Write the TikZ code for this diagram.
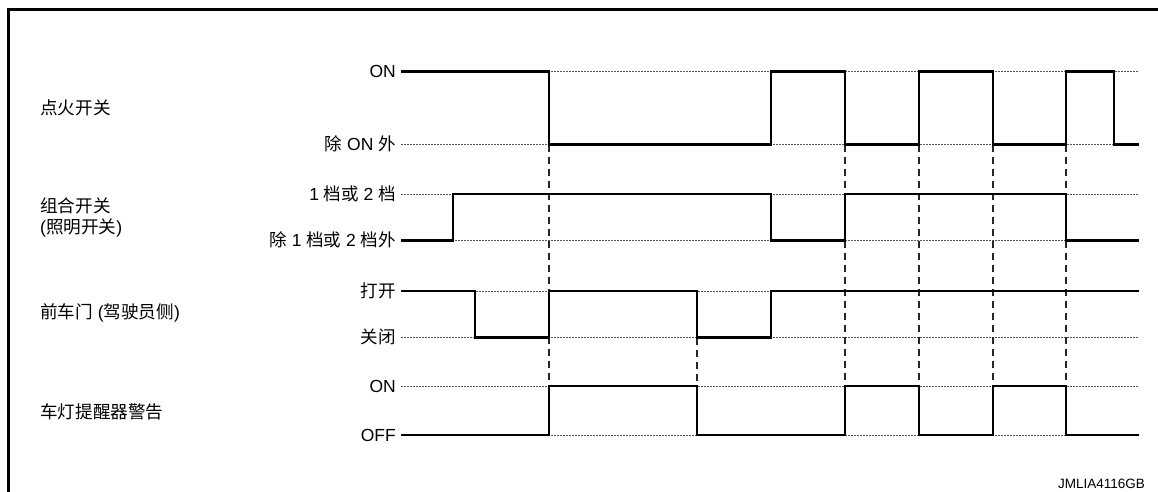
\documentclass[tikz,border=0pt]{standalone}
\usepackage{fontspec}
\setmainfont{Liberation Sans}
\newfontfamily\cjk{Noto Sans CJK SC}
\newcommand{\zh}[1]{{\cjk #1}}
\usetikzlibrary{positioning}

\tikzset{
  grp/.style={anchor=west, inner sep=0pt, align=left, font=\fontsize{17.6}{21}\selectfont},
  lvl/.style={anchor=base east, inner sep=0pt, yshift=-6.3pt, font=\fontsize{17.5}{20}\selectfont},
  sig/.style={line width=2.9pt, line join=miter},
  refline/.style={black!65, line width=0.8pt, dash pattern=on 1.6pt off 1.4pt},
  tline/.style={black!85, line width=1.1pt, dash pattern=on 7.5pt off 4.5pt},
}

\begin{document}
\begin{tikzpicture}[x=1pt,y=-1pt]
\useasboundingbox (0,0) rectangle (1158,492);
\draw[line width=2.9pt, line join=miter] (8.3,492) -- (8.3,9.7) -- (1158,9.7);

% signal names
\node[grp] (ign) at (40,108) {\zh{点火开关}};
\node[grp] (comb) at (40,217.5) {\zh{组合开关}\\(\zh{照明开关})};
\node[grp] (door) at (40,313) {\zh{前车门} (\zh{驾驶员侧})};
\node[grp] (warn) at (40,412) {\zh{车灯提醒器警告}};

% levels
\node[lvl] (ignOn) at (396,71.5) {ON};
\node[lvl] (ignOff) at (396,144.5) {\zh{除} ON \zh{外}};
\node[lvl] (combOn) at (396,194) {1 \zh{档或} 2 \zh{档}};
\node[lvl] (combOff) at (396,240.5) {\zh{除} 1 \zh{档或} 2 \zh{档外}};
\node[lvl] (doorOpen) at (396,291) {\zh{打开}};
\node[lvl] (doorShut) at (396,337.5) {\zh{关闭}};
\node[lvl] (warnOn) at (396,386) {ON};
\node[lvl] (warnOff) at (396,435) {OFF};

\foreach \y in {71.5,144.5,194,240.5,291,337.5,386,435}
  \draw[refline] (401,\y) -- (1139,\y);

% timing marks
\foreach \x in {549,845,919,993,1066}
  \draw[tline] (\x,144.5) -- (\x,386);
\draw[tline] (697,337.5) -- (697,386);

% waveforms
\draw[sig] (401,71.5) -| (549,144.5) -| (771,71.5) -| (845,144.5) -| (919,71.5)
  -| (993,144.5) -| (1066,71.5) -| (1114,144.5) -- (1139,144.5);
\draw[sig] (401,240.5) -| (453,194) -| (771,240.5) -| (845,194) -| (1066,240.5) -- (1139,240.5);
\draw[sig] (401,291) -| (475,337.5) -| (549,291) -| (697,337.5) -| (771,291) -- (1139,291);
\draw[sig] (401,435) -| (549,386) -| (697,435) -| (845,386) -| (919,435) -| (993,386)
  -| (1066,435) -- (1139,435);

\node[anchor=base east, inner sep=0pt, font=\fontsize{13.5}{16}\selectfont] (code) at (1145,488) {JMLIA4116GB};
\end{tikzpicture}
\end{document}
